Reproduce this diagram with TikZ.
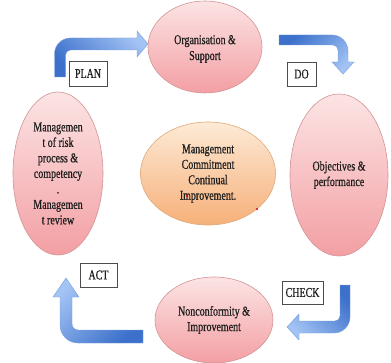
\documentclass[tikz,border=0pt]{standalone}
\usepackage{fontspec}
\setmainfont{Liberation Serif}[FakeStretch=0.74,FakeBold=0.6]
\usetikzlibrary{shapes.geometric}
\definecolor{pinktop}{HTML}{FCE4E4}
\definecolor{pinkbot}{HTML}{F39FA3}
\definecolor{pinkedge}{HTML}{D39496}
\definecolor{orgtop}{HTML}{FDEAD6}
\definecolor{orgbot}{HTML}{F6B079}
\definecolor{orgedge}{HTML}{E0A878}
\definecolor{bluelight}{HTML}{A3C3F4}
\definecolor{bluedark}{HTML}{3C70CB}
\definecolor{blueedge}{HTML}{7AA0DC}
\definecolor{txt}{HTML}{1E1E1E}
\begin{document}
\begin{tikzpicture}[x=1pt,y=1pt,
  every node/.style={font=\fontsize{13.5}{15.5}\selectfont, text=txt},
  pinkell/.style={ellipse, draw=pinkedge, line width=0.6pt, top color=pinktop, bottom color=pinkbot, inner sep=0pt, align=center},
  orgell/.style={ellipse, draw=orgedge, line width=0.6pt, top color=orgtop, bottom color=orgbot, inner sep=0pt, align=center},
  tagbox/.style={rectangle, draw=black!70, fill=white, line width=0.5pt, inner sep=0pt},
  bluearrow/.style={draw=blueedge, line width=0.4pt}
]
\useasboundingbox (0,0) rectangle (391,362);
\fill[white] (0,0) rectangle (391,362);

% arrows
% PLAN
\path[bluearrow, top color=bluelight, bottom color=bluedark, shading angle=-45]
  (54.5,285) -- (54.5,308) arc[start angle=180,end angle=90,radius=16pt]
  -- (137,324) -- (137,331) -- (148,318) -- (137,305) -- (137,312)
  -- (70.5,312) arc[start angle=90,end angle=180,radius=5pt] -- (65.5,285) -- cycle;
% DO
\path[bluearrow, top color=bluedark, bottom color=bluelight, shading angle=45]
  (279,327) -- (332,327) arc[start angle=90,end angle=0,radius=16pt]
  -- (348,300) -- (354,300) -- (343,288) -- (332,300) -- (338,300)
  -- (338,312) arc[start angle=0,end angle=90,radius=5pt] -- (279,317) -- cycle;
% CHECK
\path[bluearrow, top color=bluedark, bottom color=bluelight, shading angle=-45]
  (350,77) -- (350,45) arc[start angle=0,end angle=-90,radius=16pt]
  -- (299,29) -- (299,22) -- (287,35) -- (299,48) -- (299,41)
  -- (335,41) arc[start angle=-90,end angle=0,radius=5pt] -- (340,77) -- cycle;
% ACT
\path[bluearrow, top color=bluelight, bottom color=bluedark, shading angle=45]
  (143,19) -- (78,19) arc[start angle=-90,end angle=-180,radius=18pt]
  -- (60,65) -- (53,65) -- (66,84) -- (79,65) -- (72,65)
  -- (72,38) arc[start angle=180,end angle=270,radius=6pt] -- (143,32) -- cycle;

% ellipses
\node[pinkell, minimum width=114, minimum height=92] (org) at (205,315)
  {\raisebox{-13pt}[0pt][0pt]{\shortstack{Organisation \&\\[1pt]Support}}};
\node[pinkell, minimum width=90, minimum height=163] (risk) at (58,188.5)
  {Managemen\\t of risk\\process \&\\competency\\.\\Managemen\\t review};
\node[pinkell, minimum width=98, minimum height=162] (obj) at (339,187) {Objectives \&\\performance};
\node[orgell, minimum width=135, minimum height=103] (mgmt) at (208,188.5)
  {Management\\Commitment\\Continual\\Improvement.};
\node[pinkell, minimum width=118, minimum height=86] (nonc) at (214,42) {Nonconformity \&\\Improvement};

% tags
\node[tagbox, minimum width=38, minimum height=25] (plan) at (88,288.5) {PLAN};
\node[tagbox, minimum width=29, minimum height=24] (do) at (301.5,288) {DO};
\node[tagbox, minimum width=37, minimum height=24] (act) at (98.5,87) {ACT};
\node[tagbox, minimum width=41, minimum height=23] (check) at (302.5,69.5) {CHECK};

% small red marks
\fill[red!85!black] (187,166) circle[radius=1.2pt];
\fill[red!85!black] (257,153) circle[radius=1.1pt];
\end{tikzpicture}
\end{document}
